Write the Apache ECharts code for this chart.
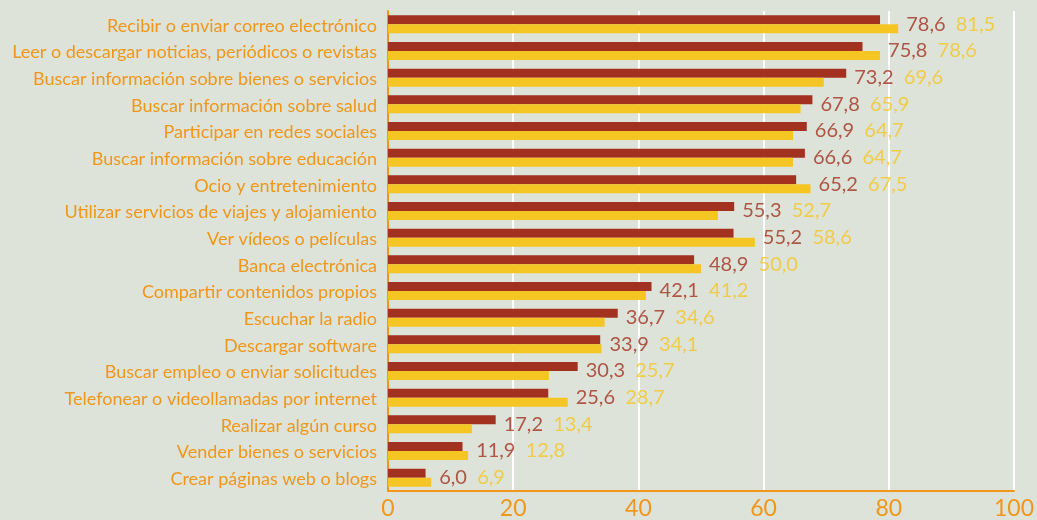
<!DOCTYPE html>
<html>
<head>
<meta charset="utf-8">
<script src="https://cdn.jsdelivr.net/npm/echarts@6/dist/echarts.min.js"></script>
<style>
html,body{margin:0;padding:0;background:#dde3d9;}
#c{width:1037px;height:520px;}
</style>
</head>
<body>
<div id="c"></div>
<script>
var categories = [
  "Recibir o enviar correo electrónico",
  "Leer o descargar noticias, periódicos o revistas",
  "Buscar información sobre bienes o servicios",
  "Buscar información sobre salud",
  "Participar en redes sociales",
  "Buscar información sobre educación",
  "Ocio y entretenimiento",
  "Utilizar servicios de viajes y alojamiento",
  "Ver vídeos o películas",
  "Banca electrónica",
  "Compartir contenidos propios",
  "Escuchar la radio",
  "Descargar software",
  "Buscar empleo o enviar solicitudes",
  "Telefonear o videollamadas por internet",
  "Realizar algún curso",
  "Vender bienes o servicios",
  "Crear páginas web o blogs"
];
var seriesRed = [78.6, 75.8, 73.2, 67.8, 66.9, 66.6, 65.2, 55.3, 55.2, 48.9, 42.1, 36.7, 33.9, 30.3, 25.6, 17.2, 11.9, 6.0];
var seriesYellow = [81.5, 78.6, 69.6, 65.9, 64.7, 64.7, 67.5, 52.7, 58.6, 50.0, 41.2, 34.6, 34.1, 25.7, 28.7, 13.4, 12.8, 6.9];
var xTicks = [0, 20, 40, 60, 80, 100];

var RED = '#a2311f', YEL = '#f5c523', ORANGE = '#f0961a';
var FONT = 'Lato';

function fmt(v){ return v.toFixed(1).replace('.', ','); }

var labelData = categories.map(function(c, i){
  return { value: [Math.max(seriesRed[i], seriesYellow[i]), c], r: seriesRed[i], y: seriesYellow[i] };
});

var chart = echarts.init(document.getElementById('c'));
chart.setOption({
  backgroundColor: '#dde3d9',
  animation: false,
  grid: { left: 388, right: 20, top: 11, bottom: 28, containLabel: false },
  xAxis: {
    type: 'value', min: xTicks[0], max: xTicks[xTicks.length-1], interval: 20,
    axisLine: { show: true, lineStyle: { color: ORANGE, width: 2 } },
    axisTick: { show: false },
    splitLine: { show: true, lineStyle: { color: '#ffffff', width: 2 } },
    axisLabel: { color: ORANGE, fontFamily: FONT, fontSize: 23, margin: 6 }
  },
  yAxis: {
    type: 'category', data: categories, inverse: true,
    axisLine: { show: true, lineStyle: { color: ORANGE, width: 2 } },
    axisTick: { show: false },
    axisLabel: {
      color: ORANGE, fontFamily: FONT, fontSize: 18, margin: 11,
      formatter: function(v){ return '{c|' + v + '}'; },
      rich: { c: { color: ORANGE, fontFamily: FONT, fontSize: 18, padding: [3, 0, 0, 0] } }
    }
  },
  series: [
    { type: 'bar', data: seriesRed, barWidth: 9, barGap: '0%', itemStyle: { color: RED } },
    { type: 'bar', data: seriesYellow, barWidth: 9, barGap: '0%', itemStyle: { color: YEL } },
    {
      type: 'scatter', data: labelData, symbolSize: 0, silent: true,
      label: {
        show: true, position: 'right', distance: 8,
        fontFamily: FONT, fontSize: 20,
        formatter: function(p){ return '{r|' + fmt(p.data.r) + '}  {y|' + fmt(p.data.y) + '}'; },
        rich: {
          r: { color: RED, fontFamily: FONT, fontSize: 20 },
          y: { color: YEL, fontFamily: FONT, fontSize: 20 }
        }
      }
    }
  ]
});
</script>
</body>
</html>
